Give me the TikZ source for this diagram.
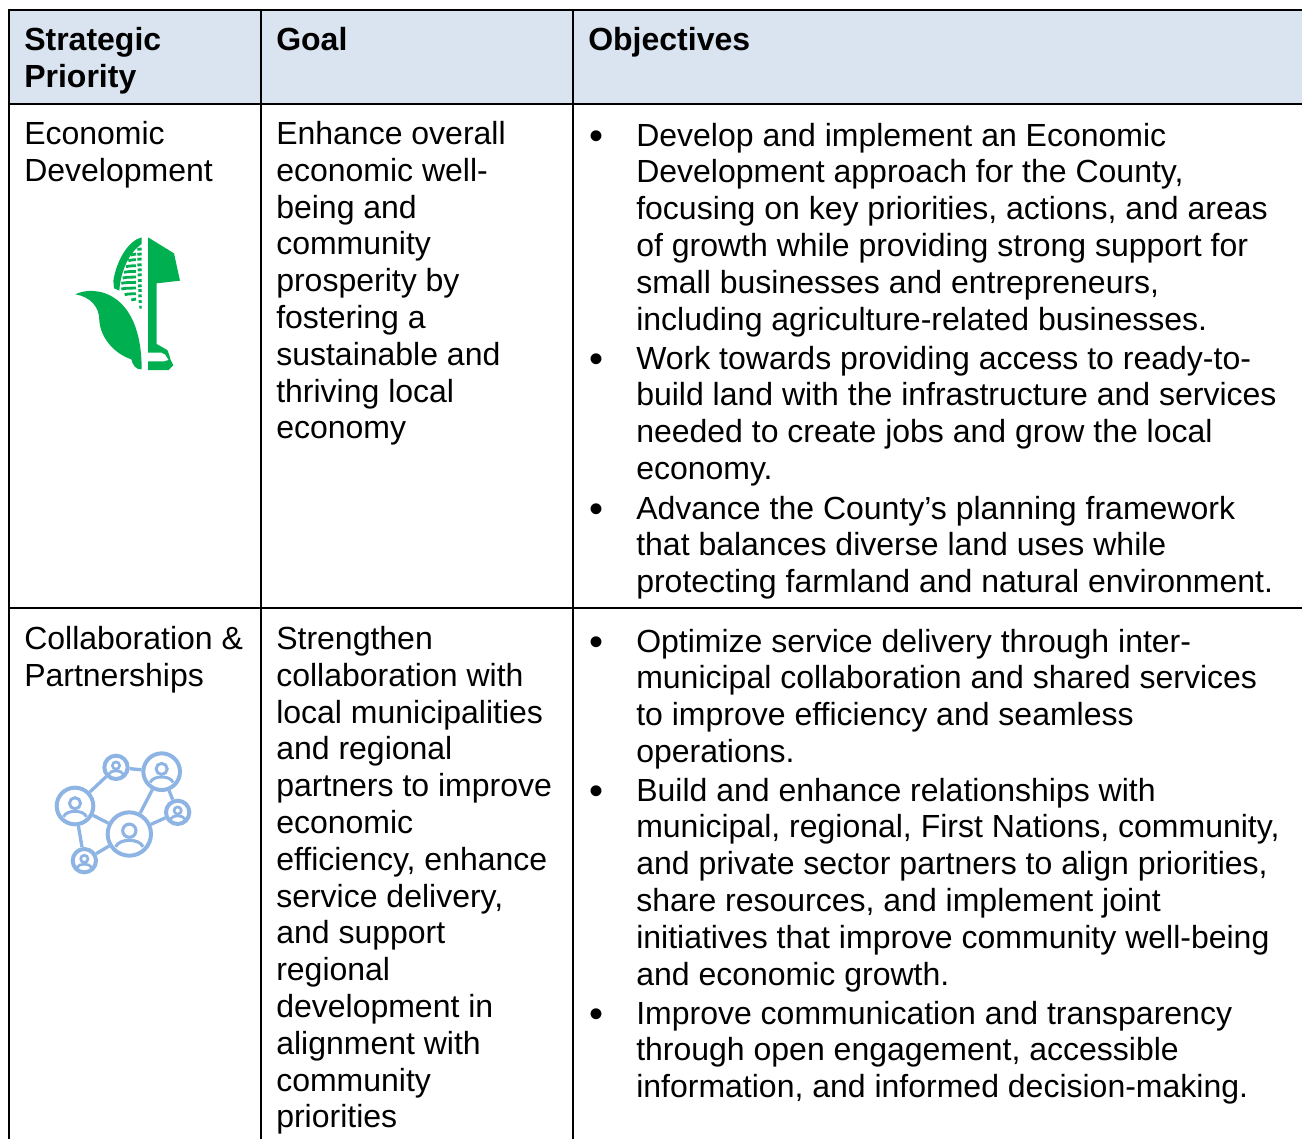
\documentclass[tikz,border=0pt]{standalone}
\usepackage{fontspec}
\setmainfont{Liberation Sans}
\definecolor{headfill}{HTML}{DAE3F0}
\definecolor{corn}{HTML}{00B050}
\definecolor{netblue}{HTML}{8EB4E3}
\tikzset{
  cell/.style={anchor=north west,inner sep=0pt,align=left,font=\fontsize{24}{27.6}\selectfont},
  headcell/.style={cell,font=\fontsize{24}{27.6}\selectfont\bfseries},
  bul/.style={inner sep=0pt,font=\fontsize{30}{30}\selectfont},
  rule/.style={line width=1.5pt,black},
  kern/.style={corn,line width=2.1pt},
  hub/.style={circle,draw=netblue,inner sep=0pt,line width=#1},
  link/.style={netblue,line width=2.5pt},
}
\newcommand{\persona}[3]{% centre x, y, circle radius (zoom units)
  \draw[netblue,line width=1.6pt+#3*0.012pt] (#1,#2-0.16*#3) circle[radius=0.32*#3];
  \draw[netblue,line width=1.6pt+#3*0.012pt] (#1-0.66*#3,#2+0.62*#3) .. controls (#1-0.5*#3,#2+0.2*#3) and (#1+0.5*#3,#2+0.2*#3) .. (#1+0.66*#3,#2+0.62*#3);
}
\begin{document}
\begin{tikzpicture}[x=0.75pt,y=-0.75pt]
\useasboundingbox (0,0) rectangle (1302,1139);
\clip (0,0) rectangle (1302,1139);
\fill[headfill] (9,10) rectangle (1302,104);
\draw[rule] (1302,10) -- (9,10) -- (9,1139);
\draw[rule,line width=2pt] (9,104) -- (1302,104);
\draw[rule] (9,608) -- (1302,608);
\draw[rule] (261,10) -- (261,1139);
\draw[rule] (573,10) -- (573,1139);

\node[headcell] (h1) at (24,24.5) {\strut Strategic\\Priority};
\node[headcell] (h2) at (276,24.5) {\strut Goal};
\node[headcell] (h3) at (588,24.5) {\strut Objectives};

\node[cell] (p1) at (24,118.5) {\strut Economic\\Development};
\node[cell] (g1) at (276,118.5) {\strut Enhance overall\\economic well-\\being and\\community\\prosperity by\\fostering a\\sustainable and\\thriving local\\economy};
\node[bul] (b1) at (596,140) {•};
\node[cell] (o1) at (636,120) {\strut Develop and implement an Economic\\Development approach for the County,\\focusing on key priorities, actions, and areas\\of growth while providing strong support for\\small businesses and entrepreneurs,\\including agriculture-related businesses.};
\node[bul] (b2) at (596,363) {•};
\node[cell] (o2) at (636,343) {\strut Work towards providing access to ready-to-\\build land with the infrastructure and services\\needed to create jobs and grow the local\\economy.};
\node[bul] (b3) at (596,513) {•};
\node[cell] (o3) at (636,493) {\strut Advance the County’s planning framework\\that balances diverse land uses while\\protecting farmland and natural environment.};

\node[cell] (p2) at (24,623.5) {\strut Collaboration \&\\Partnerships};
\node[cell] (g2) at (276,623.5) {\strut Strengthen\\collaboration with\\local municipalities\\and regional\\partners to improve\\economic\\efficiency, enhance\\service delivery,\\and support\\regional\\development in\\alignment with\\community\\priorities};
\node[bul] (b4) at (596,646) {•};
\node[cell] (o4) at (636,626) {\strut Optimize service delivery through inter-\\municipal collaboration and shared services\\to improve efficiency and seamless\\operations.};
\node[bul] (b5) at (596,795) {•};
\node[cell] (o5) at (636,775) {\strut Build and enhance relationships with\\municipal, regional, First Nations, community,\\and private sector partners to align priorities,\\share resources, and implement joint\\initiatives that improve community well-being\\and economic growth.};
\node[bul] (b6) at (596,1018) {•};
\node[cell] (o6) at (636,998) {\strut Improve communication and transparency\\through open engagement, accessible\\information, and informed decision-making.};

% corn icon
\begin{scope}[shift={(50,220)},x=0.25pt,y=-0.25pt]
\fill[corn] (294,52) -- (372,100) -- (390,182) -- (320,190) -- (320,372) -- (352,390) .. controls (358,400) and (358,410) .. (362,420) -- (370,436) -- (356,450) -- (294,450) -- (294,424) -- (342,424) -- (356,420) -- (346,404) -- (335,398) -- (294,398) -- cycle;
\fill[corn] (275,52) .. controls (235,62) and (200,120) .. (190,182) -- (192,205) -- (208,212) .. controls (212,150) and (240,95) .. (275,72) -- cycle;
\fill[corn] (76,223) .. controls (130,195) and (275,210) .. (275,448) .. controls (258,450) and (248,435) .. (244,418) .. controls (190,400) and (150,350) .. (148,300) .. controls (148,260) and (120,230) .. (76,223) -- cycle;
\foreach \y/\a in {88/262,103/262,118/262,135/262,150/263,165/263,182/264,198/264,212/265,228/265,245/266,262/268}
  \draw[kern] (\a,\y) -- (275,\y-1);
\foreach \y/\a/\b in {103/243/258,120/235/258,138/228/258,155/222/258,172/218/258,188/214/258,205/214/258,222/224/258,238/244/258}
  \draw[kern] (\a,\y+2) .. controls (\a+8,\y) .. (\b,\y-1);
\end{scope}

% network icon
\begin{scope}[shift={(40,740)},x=0.25pt,y=-0.25pt]
\node[hub=3pt,minimum size=32.5pt] (nc) at (268,282) {};
\node[hub=3pt,minimum size=27.5pt] (nl) at (105,198) {};
\node[hub=3pt,minimum size=27.5pt] (nr) at (365,95) {};
\node[hub=3pt,minimum size=17.5pt] (nt) at (228,82) {};
\node[hub=3pt,minimum size=17.5pt] (ne) at (413,217) {};
\node[hub=3pt,minimum size=17.5pt] (nb) at (133,362) {};
\draw[link] (nl) -- (nt);
\draw[link] (nt) -- (nr);
\draw[link] (nr) -- (ne);
\draw[link] (nr) -- (nc);
\draw[link] (ne) -- (nc);
\draw[link] (nl) -- (nc);
\draw[link] (nl) -- (nb);
\draw[link] (nb) -- (nc);
\persona{268}{282}{62}
\persona{105}{198}{52}
\persona{365}{95}{52}
\persona{228}{82}{34}
\persona{413}{217}{34}
\persona{133}{362}{34}
\end{scope}
\end{tikzpicture}
\end{document}
